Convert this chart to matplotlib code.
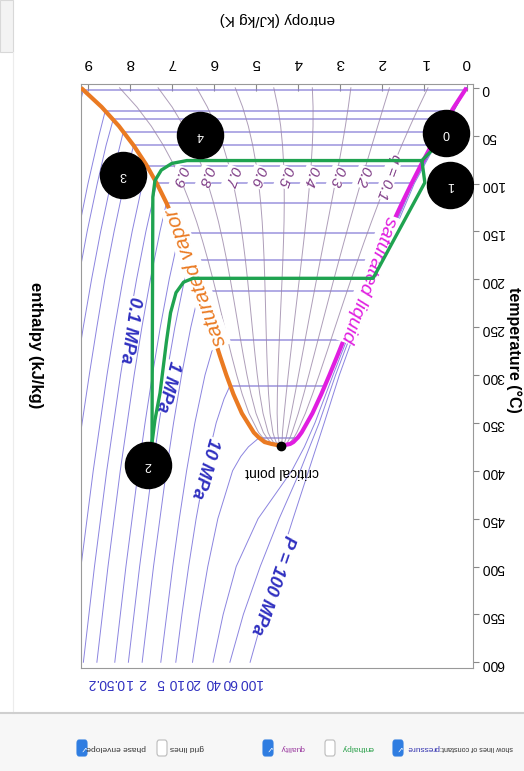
import numpy as np
import matplotlib
matplotlib.use('Agg')
import matplotlib.pyplot as plt
from matplotlib.patches import Rectangle, FancyBboxPatch
from matplotlib.lines import Line2D

plt.rcParams['font.family'] = ['Liberation Sans', 'DejaVu Sans']

# saturation dome, T in C, s in kJ/kg K
sat_T = [0.01, 20, 40, 60, 80, 100, 120, 140, 160, 180, 200, 220, 240, 260,
         280, 300, 320, 340, 360, 365, 370, 372, 373.95]
sat_sf = [0.0, 0.2965, 0.5724, 0.8312, 1.0753, 1.3069, 1.5278, 1.7395, 1.9427,
          2.1393, 2.3305, 2.5177, 2.7020, 2.8849, 3.0685, 3.2552, 3.4494, 3.6601,
          3.9167, 4.00, 4.1112, 4.19, 4.407]
sat_sg = [9.1556, 8.6671, 8.2557, 7.9096, 7.6111, 7.3549, 7.1296, 6.9284, 6.7502,
          6.5857, 6.4323, 6.2861, 6.1437, 6.0019, 5.8571, 5.7045, 5.5362, 5.3357,
          5.0526, 4.94, 4.7971, 4.63, 4.407]

# isobars: flat part inside the dome
dome_P = [0.0007, 0.003, 0.005, 0.01, 0.02, 0.05, 0.1, 0.2, 0.5, 1, 2, 5, 10, 20]
dome_T = [2, 24.1, 32.9, 45.8, 60.1, 81.3, 99.6, 120.2, 151.8, 179.9, 212.4, 263.9, 311.0, 365.7]
dome_sf = [0.03, 0.354, 0.476, 0.649, 0.832, 1.091, 1.303, 1.530, 1.860, 2.138,
           2.447, 2.921, 3.360, 4.016]
dome_sg = [9.10, 8.577, 8.394, 8.149, 7.907, 7.593, 7.359, 7.127, 6.821, 6.585,
           6.339, 5.974, 5.616, 4.931]

# isobars: superheated part (same order as dome_P)
sh_T = [
    [2, 20, 40],
    [24.1, 50, 100, 150],
    [32.9, 60, 100, 150, 200],
    [45.8, 50, 100, 150, 200, 250, 300],
    [60.1, 100, 150, 200, 250, 300, 350, 400],
    [81.3, 100, 150, 200, 250, 300, 400, 500],
    [99.6, 150, 200, 250, 300, 400, 500, 600],
    [120.2, 150, 200, 250, 300, 400, 500, 600],
    [151.8, 200, 250, 300, 350, 400, 500, 600],
    [179.9, 200, 250, 300, 350, 400, 500, 600],
    [212.4, 225, 250, 300, 350, 400, 500, 600],
    [263.9, 300, 350, 400, 450, 500, 600],
    [311.0, 325, 350, 400, 450, 500, 550, 600],
    [365.7, 375, 385, 400, 450, 500, 550, 600],
]
sh_s = [
    [9.10, 9.20, 9.31],
    [8.58, 8.73, 8.99, 9.22],
    [8.39, 8.56, 8.77, 9.01, 9.22],
    [8.149, 8.174, 8.449, 8.689, 8.905, 9.102, 9.283],
    [7.907, 8.13, 8.37, 8.59, 8.78, 8.96, 9.13, 9.29],
    [7.593, 7.695, 7.941, 8.159, 8.357, 8.539, 8.866, 9.157],
    [7.359, 7.615, 7.836, 8.035, 8.217, 8.545, 8.836, 9.100],
    [7.127, 7.281, 7.508, 7.710, 7.894, 8.224, 8.515, 8.779],
    [6.821, 7.061, 7.273, 7.461, 7.635, 7.796, 8.089, 8.354],
    [6.585, 6.696, 6.927, 7.125, 7.303, 7.467, 7.764, 8.031],
    [6.339, 6.416, 6.548, 6.768, 6.958, 7.129, 7.434, 7.704],
    [5.974, 6.211, 6.452, 6.648, 6.821, 6.978, 7.261],
    [5.616, 5.760, 5.946, 6.214, 6.422, 6.600, 6.759, 6.905],
    [4.931, 5.18, 5.36, 5.556, 5.906, 6.145, 6.339, 6.508],
]

# supercritical isobars
hp_P = [40, 60, 100]
hp_T = [
    [0, 100, 200, 300, 350, 375, 400, 425, 450, 500, 550, 600],
    [0, 100, 200, 300, 350, 400, 450, 500, 550, 600],
    [0, 100, 200, 300, 350, 400, 450, 500, 550, 600],
]
hp_s = [
    [0.0, 1.29, 2.28, 3.17, 3.60, 3.85, 4.15, 4.55, 4.95, 5.47, 5.78, 6.02],
    [0.0, 1.27, 2.25, 3.11, 3.50, 3.95, 4.45, 4.90, 5.30, 5.62],
    [0.0, 1.24, 2.20, 3.02, 3.38, 3.75, 4.12, 4.48, 4.82, 5.14],
]

# pressures written under the bottom edge
end_labels = [0.2, 0.5, 1, 2, 5, 10, 20, 40, 60, 100]

q_vals = [0.1, 0.2, 0.3, 0.4, 0.5, 0.6, 0.7, 0.8, 0.9]

# cycle drawn in green
cyc_a_s = [0.77, 1.06, 0.99, 2.22, 6.50, 6.72, 6.90, 7.03, 7.13, 7.28, 7.40, 7.47]
cyc_a_T = [63, 76, 99, 199, 199, 203, 214, 235, 266, 319, 347, 371]
cyc_b_s = [1.06, 6.64, 7.00, 7.25, 7.40, 7.45, 7.47]
cyc_b_T = [76, 76, 79, 86, 97, 114, 371]

pt_labels = ['0', '1', '2', '3', '4']
pt_s = [0.49, 0.39, 7.57, 8.16, 6.33]
pt_T = [47, 102, 394, 91, 49]

crit_s, crit_T = 4.407, 373.95

fig = plt.figure(figsize=(5.24, 7.71), dpi=100)
ax = fig.add_axes([0.1546, 0.1336, 0.7481, 0.7575])

isocol = '#6f66d8'
for T, a, b in zip(dome_T, dome_sf, dome_sg):
    ax.plot([a, b], [T, T], color='#8a80d8', lw=1.1, alpha=0.85, zorder=2)
for T, s in zip(sh_T, sh_s):
    ax.plot(s, T, color=isocol, lw=0.7, alpha=0.8, zorder=2)
for T, s in zip(hp_T, hp_s):
    ax.plot(s, T, color=isocol, lw=0.7, alpha=0.8, zorder=2)

sf = np.array(sat_sf)
sg = np.array(sat_sg)
for q in q_vals:
    ax.plot(sf + q * (sg - sf), sat_T, color='#9a86a8', lw=0.7, alpha=0.8, zorder=2)

ax.plot(sat_sf, sat_T, color='#e01ee0', lw=3, zorder=3, solid_capstyle='butt')
ax.plot(sat_sg, sat_T, color='#ea7a22', lw=3, zorder=3, solid_capstyle='butt')
ax.plot([crit_s], [crit_T], 'o', color='black', ms=6, zorder=4)

wb = dict(fc='white', ec='none', pad=1.0)
ax.text(6.43, 198, 'saturated vapor', color='#ea7a22', fontsize=15, style='italic',
        rotation=110, ha='center', va='center', bbox=wb, zorder=4)
ax.text(2.33, 200, 'saturated liquid', color='#e01ee0', fontsize=14, style='italic',
        rotation=250, ha='center', va='center', bbox=wb, zorder=4)
ax.text(4.38, 401, 'critical point', color='black', fontsize=10, rotation=180,
        ha='center', va='center', zorder=4)

for q in q_vals:
    s_at = np.interp(93, sat_T, sf + q * (sg - sf))
    lab = 'q = %.1f' % q if q == 0.1 else '%.1f' % q
    ax.text(s_at, 93, lab, color='#7e3c86', fontsize=11, style='italic', rotation=250,
            ha='center', va='center', bbox=dict(fc='white', ec='none', pad=0.3), zorder=4)

blue = '#3030c0'
for lab, s, T, r in [('0.1 MPa', 7.99, 253, 262), ('1 MPa', 7.11, 312, 255),
                     ('10 MPa', 6.21, 397, 254), ('P = 100 MPa', 4.60, 519, 251)]:
    ax.text(s, T, lab, color=blue, fontsize=13, style='italic', fontweight='bold',
            rotation=r, ha='center', va='center', bbox=dict(fc='white', ec='none', pad=0.5),
            zorder=4)

# pressure values at the T = 600 end of each isobar
ends = {p: s[-1] for p, T, s in zip(dome_P, sh_T, sh_s) if T[-1] == 600}
ends.update({p: s[-1] for p, s in zip(hp_P, hp_s)})
for p in end_labels:
    ax.annotate('%g' % p, (ends[p], 600), xytext=(0, -15), textcoords='offset points',
                color=blue, fontsize=10, rotation=180, ha='center', va='center',
                annotation_clip=False)

ax.plot(cyc_a_s, cyc_a_T, color='#1fa350', lw=2.4, zorder=5, solid_joinstyle='round')
ax.plot(cyc_b_s, cyc_b_T, color='#1fa350', lw=2.4, zorder=5, solid_joinstyle='round')

ax.scatter(pt_s, pt_T, s=1100, color='black', zorder=6)
for lab, s, T in zip(pt_labels, pt_s, pt_T):
    ax.text(s, T, lab, color='white', fontsize=9, rotation=180, ha='center', va='center',
            zorder=7)

ax.set_xlim(9.156, -0.154)
ax.set_ylim(606, -4)
ax.set_xticks(range(0, 10))
ax.set_yticks(range(0, 601, 50))
ax.xaxis.tick_top()
ax.yaxis.tick_right()
ax.tick_params(axis='x', direction='in', length=5, labelrotation=180, labelsize=11,
               pad=10, color='#888888')
ax.tick_params(axis='y', direction='out', length=4, labelrotation=180, labelsize=10,
               pad=2, color='#888888')
for sp in ax.spines.values():
    sp.set_color('#999999')
    sp.set_linewidth(0.8)

fig.text(277 / 524, 1 - 19 / 771, 'entropy (kJ/kg K)', fontsize=11, rotation=180,
         ha='center', va='center')
fig.text(514 / 524, 1 - 350 / 771, 'temperature (°C)', fontsize=11.5, fontweight='bold',
         rotation=270, ha='center', va='center')
fig.text(35 / 524, 1 - 345 / 771, 'enthalpy (kJ/kg)', fontsize=12, fontweight='bold',
         rotation=270, ha='center', va='center')

# page furniture around the chart
fig.add_artist(Rectangle((0, 1 - 52 / 771), 13 / 524, 52 / 771, transform=fig.transFigure,
                         fc='#f3f3f3', ec='#d8d8d8', lw=0.8))
fig.add_artist(Line2D([13 / 524, 13 / 524], [1 - 52 / 771, 1 - 713 / 771],
                      transform=fig.transFigure, color='#ececec', lw=0.8))
ysep = 1 - 713 / 771
fig.add_artist(Rectangle((0, 0), 1, ysep, transform=fig.transFigure, fc='#f7f7f7', ec='none'))
fig.add_artist(Line2D([0, 1], [ysep, ysep], transform=fig.transFigure, color='#cfcfcf', lw=1.5))

yc = 1 - 748 / 771
ctrl_text = [('phase envelope', 116, '#333333'), ('grid lines', 187, '#333333'),
             ('quality', 292, '#9b3ca0'), ('enthalpy', 358, '#2aa04a'),
             ('pressure', 423, '#3535b0')]
for lab, x, c in ctrl_text:
    fig.text(x / 524, yc, lab, fontsize=6, color=c, rotation=180, ha='center', va='center')
fig.text(440 / 524, yc, 'show lines of constant:', fontsize=5.2, color='#333333',
         rotation=180, ha='left', va='center')
for x, on in [(82, True), (162, False), (268, True), (330, False), (398, True)]:
    fig.add_artist(FancyBboxPatch((x / 524 - 5 / 524, yc - 8 / 771), 10 / 524, 16 / 771,
                                  boxstyle='round,pad=0,rounding_size=0.004',
                                  transform=fig.transFigure,
                                  fc='#2f7de1' if on else 'white',
                                  ec='#2f7de1' if on else '#bbbbbb', lw=0.8))
    if on:
        fig.text(x / 524, yc, '✓', fontsize=6, color='white', rotation=180,
                 ha='center', va='center', family='DejaVu Sans')

fig.savefig('out.png', dpi=100)
